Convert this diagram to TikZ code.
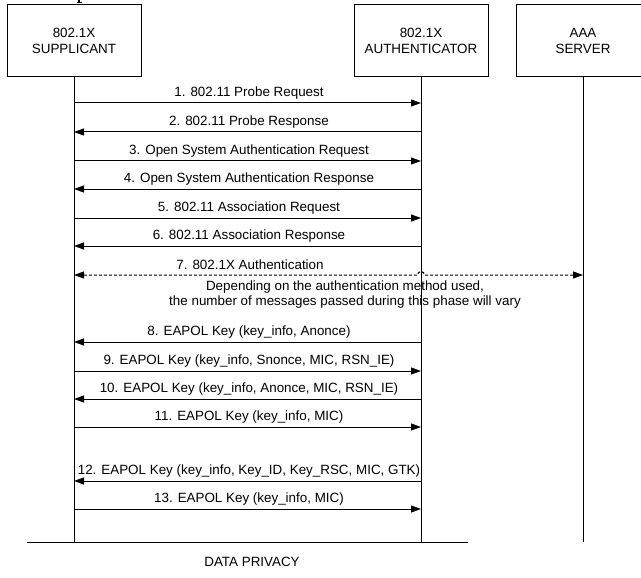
\documentclass[tikz,border=0pt]{standalone}
\usepackage{fontspec}
\setmainfont{Liberation Sans}
\usetikzlibrary{arrows.meta}
\begin{document}
\begin{tikzpicture}[x=1pt,y=-1pt,
  every node/.style={font=\fontsize{13.4}{16}\selectfont, inner sep=0pt},
  entity/.style={draw, line width=1pt, minimum width=134pt, minimum height=72pt, align=center},
  lifeline/.style={line width=1pt},
  msg/.style={line width=1pt, -{Triangle[length=10pt,width=7pt]}},
  bimsg/.style={line width=1pt, dash pattern=on 3pt off 2pt, {Triangle[length=10pt,width=7pt]}-{Triangle[length=10pt,width=7pt]}},
  lbl/.style={anchor=center},
]
\useasboundingbox (0,0) rectangle (641,578);
\clip (0,0) rectangle (641,578);

% fragment of a line of text cut off at the top edge
\fill (78.3,0) rectangle (80,2.4);
\fill (76.5,1.8) rectangle (82,2.8);

% participants
\node[entity] (sup) at (74,41) {802.1X\\SUPPLICANT};
\node[entity] (auth) at (421,41) {802.1X\\AUTHENTICATOR};
\node[entity] (aaa) at (583,41) {AAA\\SERVER};

% lifeline ends
\coordinate (supend) at (74,542);
\coordinate (authend) at (421,542);
\coordinate (aaaend) at (583,542);
\draw[lifeline] (sup.south) -- (supend);
\draw[lifeline] (auth.south) -- (authend);
\draw[lifeline] (aaa.south) -- (aaaend);

% message anchors on the lifelines
\foreach \i/\y in {1/103,2/132,3/161,4/189,5/218,6/246,7/275,8/342,9/371,10/399,11/427,12/481,13/509}{
  \coordinate (s\i) at (74,\y);
  \coordinate (a\i) at (421,\y);
}
\coordinate (r7) at (583,275);

% handshake messages
\draw[msg] (s1) -- (a1);
\draw[msg] (a2) -- (s2);
\draw[msg] (s3) -- (a3);
\draw[msg] (a4) -- (s4);
\draw[msg] (s5) -- (a5);
\draw[msg] (a6) -- (s6);
\draw[bimsg] (s7) -- ([xshift=-3.5pt]a7) arc[start angle=180, end angle=0, radius=3.5pt] -- (r7);
\draw[msg] (a8) -- (s8);
\draw[msg] (s9) -- (a9);
\draw[msg] (a10) -- (s10);
\draw[msg] (s11) -- (a11);
\draw[msg] (a12) -- (s12);
\draw[msg] (s13) -- (a13);

% message labels
\node[lbl] (l1) at (249,93) {1. 802.11 Probe Request};
\node[lbl] (l2) at (249,122) {2. 802.11 Probe Response};
\node[lbl] (l3) at (249,151) {3. Open System Authentication Request};
\node[lbl] (l4) at (249,179) {4. Open System Authentication Response};
\node[lbl] (l5) at (249,208) {5. 802.11 Association Request};
\node[lbl] (l6) at (249,236) {6. 802.11 Association Response};
\node[lbl] (l7) at (250,265) {7. 802.1X Authentication};
\node[lbl] (n7a) at (345,287) {Depending on the authentication method used,};
\node[lbl] (n7b) at (345,302) {the number of messages passed during this phase will vary};
\node[lbl] (l8) at (249,332) {8. EAPOL Key (key\_info, Anonce)};
\node[lbl] (l9) at (249,361) {9. EAPOL Key (key\_info, Snonce, MIC, RSN\_IE)};
\node[lbl] (l10) at (249,389) {10. EAPOL Key (key\_info, Anonce, MIC, RSN\_IE)};
\node[lbl] (l11) at (249,417) {11. EAPOL Key (key\_info, MIC)};
\node[lbl] (l12) at (249,471) {12. EAPOL Key (key\_info, Key\_ID, Key\_RSC, MIC, GTK)};
\node[lbl] (l13) at (249,499) {13. EAPOL Key (key\_info, MIC)};

% data privacy boundary
\coordinate (dpl) at (27,542);
\coordinate (dpr) at (468,542);
\draw[lifeline] (dpl) -- (dpr);
\node[lbl] (dp) at (252,562) {DATA PRIVACY};
\end{tikzpicture}
\end{document}
